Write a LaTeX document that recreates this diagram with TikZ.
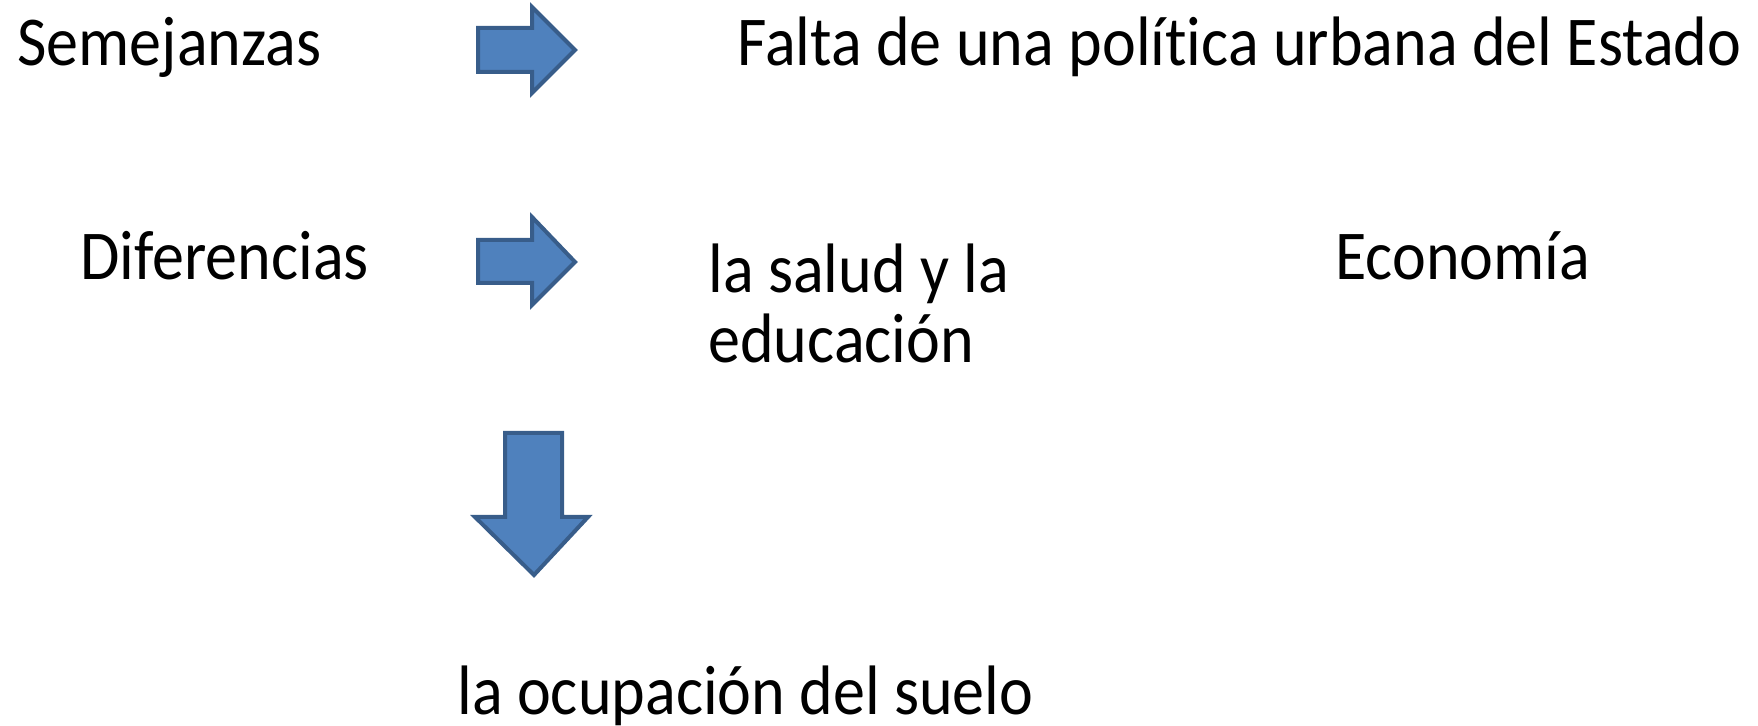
\documentclass[tikz,border=0pt]{standalone}
\usepackage{fontspec}
\setmainfont{Carlito}[FakeStretch=0.915, Ligatures=NoCommon]
\definecolor{arrowfill}{HTML}{4F81BD}
\definecolor{arrowline}{HTML}{385D8A}

\begin{document}
\begin{tikzpicture}[x=0.5pt, y=-0.5pt,
    txt/.style={anchor=base west, inner sep=0pt, font=\fontsize{35}{35}\selectfont},
    blockarrow/.style={fill=arrowfill, draw=arrowline, line width=2pt, line join=miter}]
  \useasboundingbox (0,0) rectangle (1758,726);

  \node[txt] (sem)   at (17,66)   {Semejanzas};
  \node[txt] (falta) at (737,66)  {Falta de una política urbana del Estado};
  \node[txt] (dif)   at (80,280)  {Diferencias};
  \node[txt] (salud) at (708,293) {la salud y la};
  \node[txt] (educ)  at (708,363) {educación};
  \node[txt] (eco)   at (1335,280) {Economía};
  \node[txt] (suelo) at (457,715) {la ocupación del suelo};

  % flechas
  \draw[blockarrow] (478,28) -- (532,28) -- (532,7) -- (575,50) -- (532,93)
                    -- (532,72) -- (478,72) -- cycle;
  \draw[blockarrow] (478,240) -- (532,240) -- (532,217) -- (575,262) -- (532,305)
                    -- (532,283) -- (478,283) -- cycle;
  \draw[blockarrow] (505,433) -- (562,433) -- (562,517) -- (588,517) -- (534,575)
                    -- (475,517) -- (505,517) -- cycle;
\end{tikzpicture}
\end{document}
